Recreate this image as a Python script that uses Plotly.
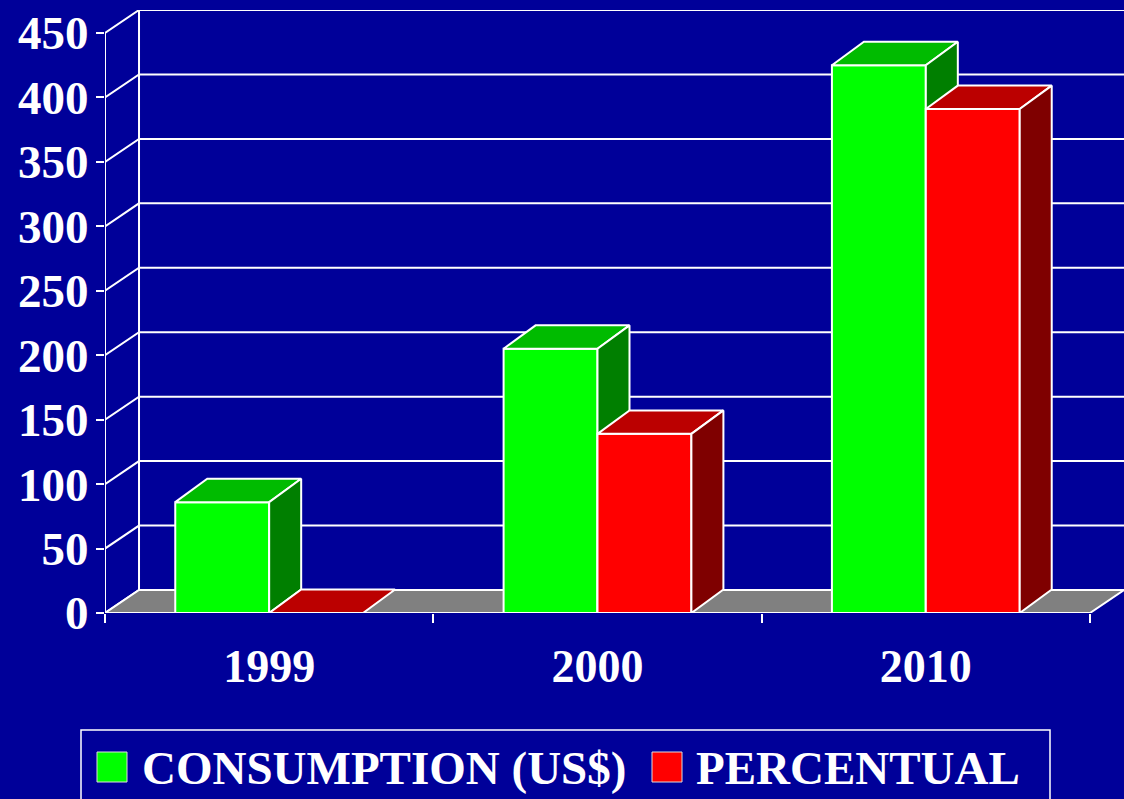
import plotly.graph_objects as go

# ---------------- data ----------------
categories = ["1999", "2000", "2010"]
consumption = [86, 205, 425]
percentual = [0, 139, 391]
series_names = ["CONSUMPTION (US$)", "PERCENTUAL"]
y_ticks = [0, 50, 100, 150, 200, 250, 300, 350, 400, 450]

# ---------------- styling / geometry ----------------
BG = "#000099"
FONT = "Liberation Serif, Times New Roman, serif"
W, H = 1124, 799
ML, MR, MT, MB = 105, 0, 10, 186

Y_MAX = 450
X_LEFT, X_RIGHT = -0.5, len(categories) - 0.5
WALL_DX, WALL_DY = 0.1036, 17.85      # depth offset of back wall (data units)
BAR_W = 0.286
BAR_DX, BAR_DY = 0.0975, 18.2         # depth offset of bars

face_colors = {
    0: ("#00FF00", "#00BB00", "#007F00"),
    1: ("#FF0000", "#BB0000", "#7F0000"),
}

fig = go.Figure()


def poly_trace(xs, ys, color, width=2):
    return go.Scatter(x=xs, y=ys, mode="lines", fill="toself", fillcolor=color,
                      line=dict(color="white", width=width), hoverinfo="skip",
                      showlegend=False, cliponaxis=False)


def line_trace(xs, ys, width=2):
    return go.Scatter(x=xs, y=ys, mode="lines", line=dict(color="white", width=width),
                      hoverinfo="skip", showlegend=False, cliponaxis=False)


# back wall: gridlines, side-wall diagonals, back vertical line
gx, gy = [], []
for v in y_ticks:
    gx += [X_LEFT, X_LEFT + WALL_DX, X_RIGHT + WALL_DX + 0.05, None]
    gy += [v, v + WALL_DY, v + WALL_DY, None]
gx += [X_LEFT + WALL_DX, X_LEFT + WALL_DX, None]
gy += [WALL_DY, Y_MAX + WALL_DY, None]
fig.add_trace(line_trace(gx, gy))

# floor
fig.add_trace(poly_trace([X_LEFT, X_RIGHT, X_RIGHT + WALL_DX, X_LEFT + WALL_DX, X_LEFT],
                         [0, 0, WALL_DY, WALL_DY, 0], "#808080"))

# front axis line
fig.add_trace(line_trace([X_LEFT, X_LEFT], [0, Y_MAX]))

# 3D bars
for si, vals in enumerate([consumption, percentual]):
    front_c, top_c, side_c = face_colors[si]
    fx, fy, tx, ty, sx, sy = [], [], [], [], [], []
    for ci, v in enumerate(vals):
        x0 = ci - BAR_W + si * BAR_W
        x1 = x0 + BAR_W
        if v > 0:
            fx += [x0, x1, x1, x0, x0, None]
            fy += [0, 0, v, v, 0, None]
            sx += [x1, x1 + BAR_DX, x1 + BAR_DX, x1, x1, None]
            sy += [0, BAR_DY, v + BAR_DY, v, 0, None]
        tx += [x0, x1, x1 + BAR_DX, x0 + BAR_DX, x0, None]
        ty += [v, v, v + BAR_DY, v + BAR_DY, v, None]
    if fx:
        fig.add_trace(poly_trace(fx, fy, front_c))
    fig.add_trace(poly_trace(tx, ty, top_c))
    if sx:
        fig.add_trace(poly_trace(sx, sy, side_c))

# ---------------- legend (drawn manually) ----------------
PW, PH = W - ML - MR, H - MT - MB


def px(x):
    return (x - ML) / PW


def py(y):
    return (H - MB - y) / PH


shapes = [
    dict(type="rect", xref="paper", yref="paper", x0=px(81), x1=px(1050), y0=py(830), y1=py(730),
         line=dict(color="white", width=1.5), fillcolor="rgba(0,0,0,0)", layer="above"),
]
legend_items = [(97, 140, face_colors[0][0]), (652, 694, face_colors[1][0])]
annotations = []
for (sq_x, tx_x, col), name in zip(legend_items, series_names):
    shapes.append(dict(type="rect", xref="paper", yref="paper", x0=px(sq_x), x1=px(sq_x + 30),
                       y0=py(782), y1=py(752), fillcolor=col,
                       line=dict(color="#DDDDDD", width=1), layer="above"))
    annotations.append(dict(xref="paper", yref="paper", x=px(tx_x), y=py(768), text=name,
                            showarrow=False, xanchor="left", yanchor="middle",
                            font=dict(family=FONT, size=47, color="white", weight="bold")))

fig.update_layout(
    width=W, height=H,
    margin=dict(l=ML, r=MR, t=MT, b=MB),
    paper_bgcolor=BG, plot_bgcolor=BG,
    showlegend=False,
    shapes=shapes,
    annotations=annotations,
    xaxis=dict(range=[X_LEFT, X_RIGHT + WALL_DX], tickmode="array",
               tickvals=list(range(len(categories))), ticktext=categories,
               ticks="", showgrid=False, zeroline=False, showline=False,
               ticklabelstandoff=22,
               tickfont=dict(family=FONT, size=46, color="white", weight="bold"),
               minor=dict(tickmode="array", tickvals=[X_LEFT + i for i in range(len(categories) + 1)],
                          ticks="outside", ticklen=9, tickwidth=2, tickcolor="white", showgrid=False)),
    yaxis=dict(range=[0, Y_MAX + WALL_DY], tickmode="array", tickvals=y_ticks,
               ticks="outside", ticklen=8, tickwidth=2, tickcolor="white",
               showgrid=False, zeroline=False, showline=False,
               ticklabelstandoff=-2,
               tickfont=dict(family=FONT, size=47, color="white", weight="bold")),
)

fig.write_html("out.html", config={"displayModeBar": False},
               post_script="document.body.style.margin='0';document.body.style.background='%s';" % BG)
